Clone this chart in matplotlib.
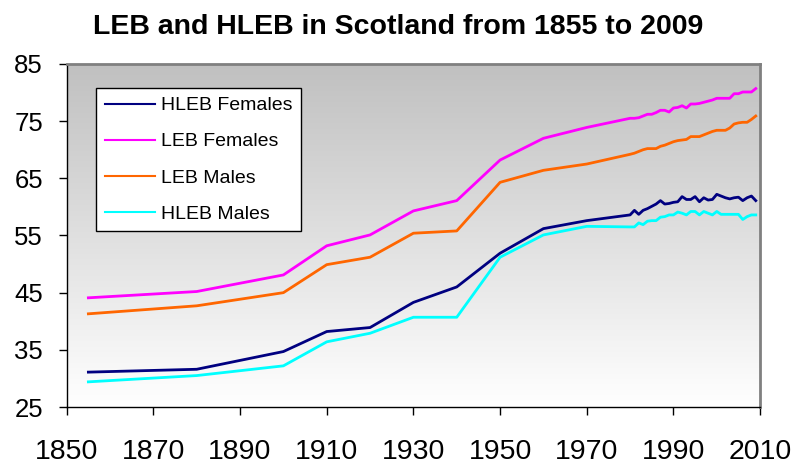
import matplotlib
matplotlib.use("Agg")
import matplotlib.pyplot as plt
import numpy as np
from matplotlib.colors import LinearSegmentedColormap

# ---------------------------------------------------------------------------
# Data
# ---------------------------------------------------------------------------
years = [1855, 1880, 1900, 1910, 1920, 1930, 1940, 1950, 1960, 1970,
         1980, 1981, 1982, 1983, 1984, 1985, 1986, 1987, 1988, 1989,
         1990, 1991, 1992, 1993, 1994, 1995, 1996, 1997, 1998, 1999,
         2000, 2001, 2002, 2003, 2004, 2005, 2006, 2007, 2008, 2009]

hleb_females = [31.1, 31.6, 34.7, 38.2, 38.9, 43.3, 46.0, 51.9, 56.2, 57.6,
                58.6, 59.4, 58.7, 59.4, 59.7, 60.1, 60.5, 61.1, 60.5, 60.6,
                60.8, 60.9, 61.8, 61.3, 61.3, 61.8, 60.9, 61.6, 61.2, 61.3,
                62.2, 61.9, 61.6, 61.4, 61.6, 61.7, 61.1, 61.6, 61.9, 61.1]

leb_females = [44.1, 45.2, 48.1, 53.2, 55.1, 59.3, 61.1, 68.2, 72.0, 73.9,
               75.5, 75.5, 75.6, 75.9, 76.2, 76.2, 76.5, 76.9, 76.9, 76.6,
               77.3, 77.4, 77.7, 77.3, 78.0, 78.0, 78.1, 78.3, 78.5, 78.7,
               79.0, 79.0, 79.0, 79.0, 79.8, 79.8, 80.1, 80.1, 80.1, 80.7]

leb_males = [41.3, 42.7, 45.0, 49.9, 51.2, 55.4, 55.8, 64.3, 66.4, 67.5,
             69.2, 69.4, 69.7, 70.0, 70.2, 70.2, 70.2, 70.6, 70.8, 71.1,
             71.4, 71.6, 71.7, 71.8, 72.3, 72.3, 72.3, 72.6, 72.9, 73.2,
             73.4, 73.4, 73.4, 73.8, 74.5, 74.7, 74.8, 74.8, 75.3, 75.9]

hleb_males = [29.4, 30.5, 32.2, 36.4, 37.9, 40.7, 40.7, 51.2, 55.1, 56.6,
              56.5, 56.5, 57.2, 56.9, 57.5, 57.6, 57.6, 58.2, 58.3, 58.6,
              58.6, 59.1, 58.9, 58.6, 59.2, 59.2, 58.6, 59.2, 58.9, 58.6,
              59.2, 58.7, 58.7, 58.7, 58.7, 58.7, 57.8, 58.3, 58.6, 58.6]

series = [
    ("HLEB Females", hleb_females, "#000080"),
    ("LEB Females", leb_females, "#FF00FF"),
    ("LEB Males", leb_males, "#FF6600"),
    ("HLEB Males", hleb_males, "#00FFFF"),
]

x_ticks = [1850, 1870, 1890, 1910, 1930, 1950, 1970, 1990, 2010]
y_ticks = [25, 35, 45, 55, 65, 75, 85]

plt.rcParams["font.family"] = ["Liberation Sans", "DejaVu Sans"]

fig = plt.figure(figsize=(7.97, 4.66), dpi=100)
ax = fig.add_axes([0.0837, 0.1266, 0.8700, 0.7361])

# plot-area gradient: grey at top fading to white at the bottom
grad = LinearSegmentedColormap.from_list("bg", ["#ffffff", "#c0c0c0"])
ax.imshow(np.linspace(0, 1, 256).reshape(-1, 1), cmap=grad, aspect="auto",
          origin="lower", extent=[0, 1, 0, 1], transform=ax.transAxes, zorder=0)

for label, vals, color in series:
    ax.plot(years, vals, color=color, linewidth=2, label=label, zorder=3)

ax.set_xlim(1850, 2010)
ax.set_ylim(25, 85)
ax.set_xticks(x_ticks)
ax.set_yticks(y_ticks)
ax.tick_params(axis="x", direction="out", length=6, width=1, pad=17, labelsize=20.5)
ax.tick_params(axis="y", direction="out", length=6, width=1, pad=11, labelsize=18.5)

for side in ("top", "right"):
    ax.spines[side].set_color("#808080")
    ax.spines[side].set_linewidth(2)
for side in ("left", "bottom"):
    ax.spines[side].set_color("black")
    ax.spines[side].set_linewidth(1)

leg = ax.legend(loc="upper left", bbox_to_anchor=(0.042, 0.930), borderaxespad=0,
                fontsize=14, frameon=True, fancybox=False, framealpha=1,
                edgecolor="black", handlelength=2.6, handletextpad=0.3,
                labelspacing=0.95, borderpad=0.45)
leg.get_frame().set_linewidth(1)
for line in leg.get_lines():
    line.set_linewidth(1.5)

fig.text(0.5, 0.942, "LEB and HLEB in Scotland from 1855 to 2009",
         ha="center", va="center", fontsize=20.5, fontweight="bold")

fig.savefig("out.png", dpi=100)
